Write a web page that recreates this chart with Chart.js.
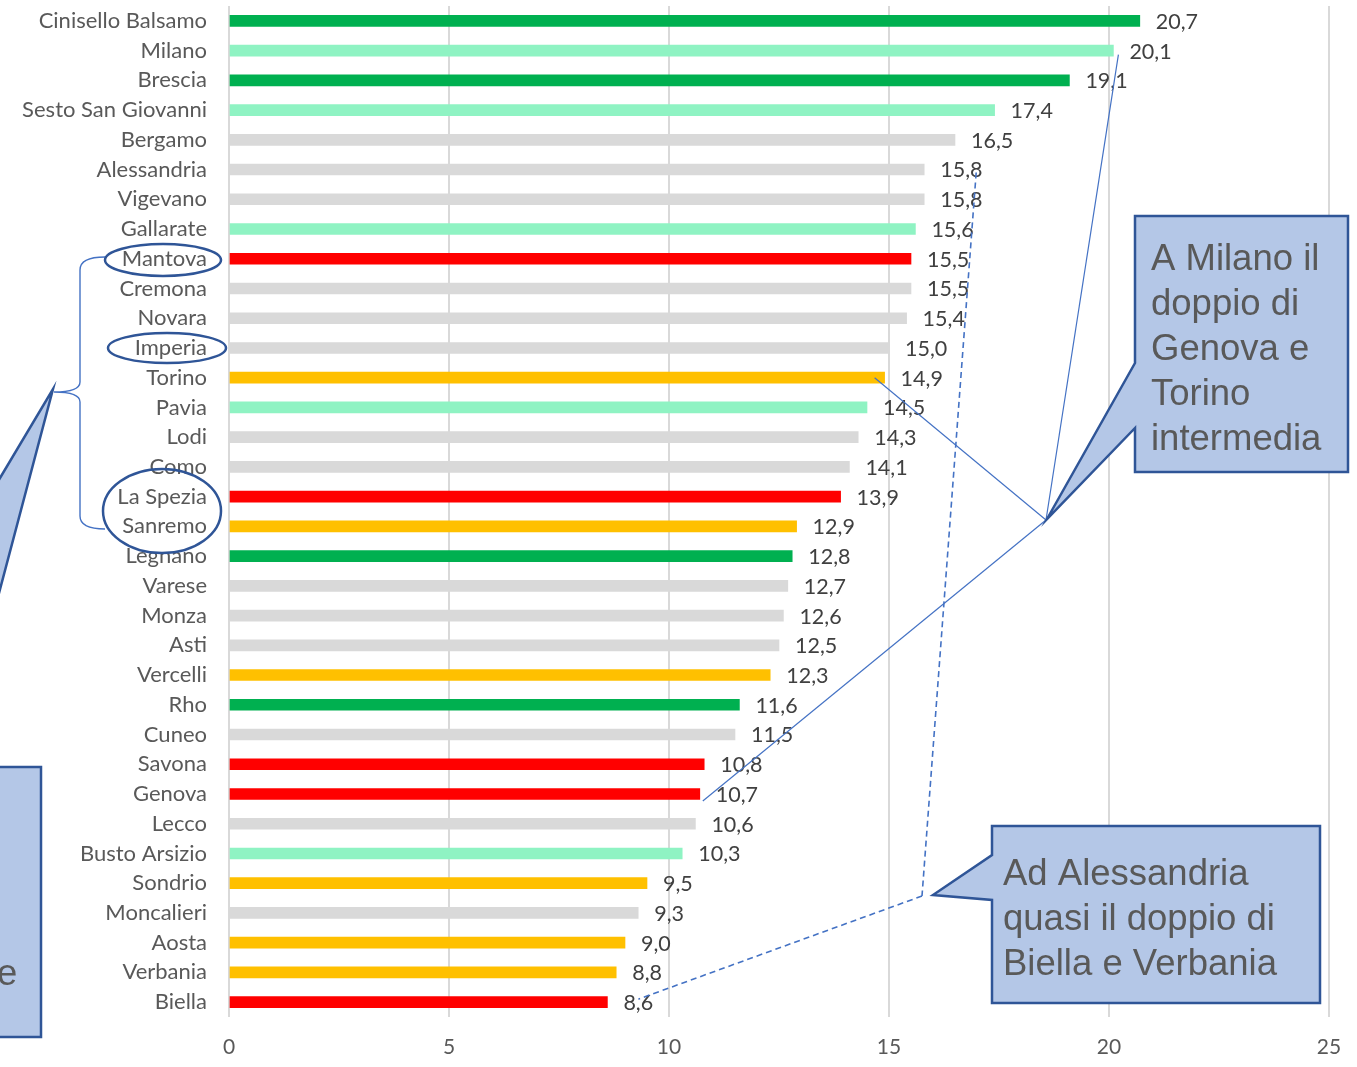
<!DOCTYPE html>
<html lang="it">
<head>
<meta charset="utf-8">
<title>Città a confronto</title>
<script src="https://cdn.jsdelivr.net/npm/chart.js@4.4.1/dist/chart.umd.min.js"></script>
<style>
  html, body { margin: 0; padding: 0; background: #fff; }
  #wrap { width: 1357px; height: 1067px; }
</style>
</head>
<body>
<div id="wrap"><canvas id="chartCitta" width="1357" height="1067"></canvas></div>
<script>
/* Classifica città — barre orizzontali con note a margine */

const cities = [
  'Cinisello Balsamo', 'Milano', 'Brescia', 'Sesto San Giovanni', 'Bergamo',
  'Alessandria', 'Vigevano', 'Gallarate', 'Mantova', 'Cremona', 'Novara',
  'Imperia', 'Torino', 'Pavia', 'Lodi', 'Como', 'La Spezia', 'Sanremo',
  'Legnano', 'Varese', 'Monza', 'Asti', 'Vercelli', 'Rho', 'Cuneo', 'Savona',
  'Genova', 'Lecco', 'Busto Arsizio', 'Sondrio', 'Moncalieri', 'Aosta',
  'Verbania', 'Biella',
];

const values = [
  20.7, 20.1, 19.1, 17.4, 16.5, 15.8, 15.8, 15.6, 15.5, 15.5, 15.4,
  15.0, 14.9, 14.5, 14.3, 14.1, 13.9, 12.9, 12.8, 12.7, 12.6, 12.5,
  12.3, 11.6, 11.5, 10.8, 10.7, 10.6, 10.3, 9.5, 9.3, 9.0, 8.8, 8.6,
];

// gruppo di appartenenza di ogni città
const groups = [
  'verde', 'verdeChiaro', 'verde', 'verdeChiaro', 'grigio',
  'grigio', 'grigio', 'verdeChiaro', 'rosso', 'grigio', 'grigio',
  'grigio', 'giallo', 'verdeChiaro', 'grigio', 'grigio', 'rosso', 'giallo',
  'verde', 'grigio', 'grigio', 'grigio', 'giallo', 'verde', 'grigio', 'rosso',
  'rosso', 'grigio', 'verdeChiaro', 'giallo', 'grigio', 'giallo',
  'giallo', 'rosso',
];

const xTicks = [0, 5, 10, 15, 20, 25];

const noteMilano = ['A Milano il', 'doppio di', 'Genova e', 'Torino', 'intermedia'];
const noteAlessandria = ['Ad Alessandria', 'quasi il doppio di', 'Biella e Verbania'];
const noteLiguria = ['e'];

const GROUP_COLORS = {
  verde: '#00b050',
  verdeChiaro: '#8ff3c3',
  grigio: '#d9d9d9',
  rosso: '#ff0000',
  giallo: '#ffc000',
};

const LABEL_FONT = '21.5px Lato';
const NOTE_FONT = '36.5px "Liberation Sans", Arial, sans-serif';
const NOTE_FILL = '#b4c7e7';
const NOTE_STROKE = '#2f5597';
const LINK_COLOR = '#4472c4';

const fmt = (v) => v.toFixed(1).replace('.', ',');

// valori a destra delle barre
const valueLabels = {
  id: 'valueLabels',
  afterDatasetsDraw(chart) {
    const { ctx } = chart;
    const meta = chart.getDatasetMeta(0);
    ctx.save();
    ctx.font = LABEL_FONT;
    ctx.fillStyle = '#404040';
    ctx.textAlign = 'left';
    ctx.textBaseline = 'middle';
    meta.data.forEach((bar, i) => {
      ctx.fillText(fmt(values[i]), bar.x + 16, bar.y + 1);
    });
    ctx.restore();
  },
};

function calloutPath(ctx, pts) {
  ctx.beginPath();
  ctx.moveTo(pts[0][0], pts[0][1]);
  for (let i = 1; i < pts.length; i++) ctx.lineTo(pts[i][0], pts[i][1]);
  ctx.closePath();
  ctx.fillStyle = NOTE_FILL;
  ctx.fill();
  ctx.lineWidth = 2.5;
  ctx.strokeStyle = NOTE_STROKE;
  ctx.lineJoin = 'miter';
  ctx.stroke();
}

function noteText(ctx, lines, x, y, step) {
  ctx.font = NOTE_FONT;
  ctx.fillStyle = '#595959';
  ctx.textAlign = 'left';
  ctx.textBaseline = 'alphabetic';
  lines.forEach((t, i) => ctx.fillText(t, x, y + i * step));
}

function ellipse(ctx, cx, cy, rx, ry) {
  ctx.beginPath();
  ctx.ellipse(cx, cy, rx, ry, 0, 0, Math.PI * 2);
  ctx.lineWidth = 2.5;
  ctx.strokeStyle = NOTE_STROKE;
  ctx.stroke();
}

function line(ctx, a, b, dashed) {
  ctx.beginPath();
  ctx.moveTo(a[0], a[1]);
  ctx.lineTo(b[0], b[1]);
  ctx.lineWidth = dashed ? 1.6 : 1.2;
  ctx.strokeStyle = LINK_COLOR;
  ctx.setLineDash(dashed ? [6, 4] : []);
  ctx.stroke();
  ctx.setLineDash([]);
}

// note, collegamenti ed evidenziazioni
const notes = {
  id: 'notes',
  afterDraw(chart) {
    const { ctx } = chart;
    const xs = chart.scales.x;
    const ys = chart.scales.y;
    const px = (v) => xs.getPixelForValue(v);
    const py = (i) => ys.getPixelForValue(i);
    ctx.save();

    // collegamenti dalla nota su Milano
    const tipM = [1046, 520];
    line(ctx, tipM, [px(20.1) + 5, py(1) + 4]);
    line(ctx, tipM, [px(14.9) - 10, py(12)]);
    line(ctx, tipM, [px(10.7) + 3, py(26) + 7]);

    // collegamento tratteggiato Alessandria / Biella
    const tipA = [922, 896];
    line(ctx, [px(15.8) + 52, py(5) + 3], tipA, true);
    line(ctx, tipA, [px(8.6) + 31, py(33) - 3], true);

    // nota su Milano
    calloutPath(ctx, [[1135, 216], [1348, 216], [1348, 472], [1135, 472],
      [1135, 428], [1047, 519], [1135, 363]]);
    noteText(ctx, noteMilano, 1151, 270, 45);

    // nota su Alessandria
    calloutPath(ctx, [[992, 826], [1320, 826], [1320, 1003], [992, 1003],
      [992, 900], [933, 895], [992, 855]]);
    noteText(ctx, noteAlessandria, 1003, 885, 45);

    // nota di sinistra, tagliata dal bordo
    calloutPath(ctx, [[-300, 767], [-172, 767], [53, 389], [-47, 767],
      [41, 767], [41, 1037], [-300, 1037]]);
    noteText(ctx, noteLiguria, -3, 985, 45);

    // graffa sulle città liguri e lombarde
    ctx.beginPath();
    ctx.lineWidth = 1.4;
    ctx.strokeStyle = LINK_COLOR;
    const bx = 80, top = 258, mid = 392, bot = 528;
    ctx.moveTo(105, top - 1);
    ctx.quadraticCurveTo(bx, top - 1, bx, top + 12);
    ctx.lineTo(bx, mid - 10);
    ctx.quadraticCurveTo(bx, mid, 54, mid);
    ctx.quadraticCurveTo(bx, mid, bx, mid + 10);
    ctx.lineTo(bx, bot - 12);
    ctx.quadraticCurveTo(bx, bot + 1, 105, bot + 1);
    ctx.stroke();

    // evidenziazione delle etichette
    ellipse(ctx, 163, 260, 58, 16);
    ellipse(ctx, 167, 348, 59, 15);
    ellipse(ctx, 162, 511, 59, 42);

    ctx.restore();
  },
};

new Chart(document.getElementById('chartCitta').getContext('2d'), {
  type: 'bar',
  data: {
    labels: cities,
    datasets: [{
      data: values,
      backgroundColor: groups.map((g) => GROUP_COLORS[g]),
      barThickness: 11,
      borderWidth: 0,
    }],
  },
  options: {
    indexAxis: 'y',
    responsive: false,
    devicePixelRatio: 1,
    animation: false,
    layout: { padding: { left: 0, right: 28, top: 6, bottom: 0 } },
    plugins: {
      legend: { display: false },
      tooltip: { enabled: false },
    },
    scales: {
      x: {
        min: 0,
        max: 25,
        afterBuildTicks: (s) => { s.ticks = xTicks.map((v) => ({ value: v })); },
        afterFit: (s) => {
          s.height = 50;
          s.paddingLeft = 0;
          s.paddingRight = 0;
        },
        grid: { color: '#d9d9d9', lineWidth: 2, drawTicks: false },
        border: { display: false },
        ticks: {
          color: '#595959',
          font: { family: 'Lato', size: 21 },
          padding: 18,
        },
      },
      y: {
        afterFit: (s) => {
          s.width = 229;
          s.paddingTop = 0;
          s.paddingBottom = 0;
        },
        grid: { display: false, drawTicks: false },
        border: { display: false },
        ticks: {
          color: '#595959',
          font: { family: 'Lato', size: 22 },
          padding: 22,
          autoSkip: false,
        },
      },
    },
  },
  plugins: [valueLabels, notes],
});
</script>
</body>
</html>
